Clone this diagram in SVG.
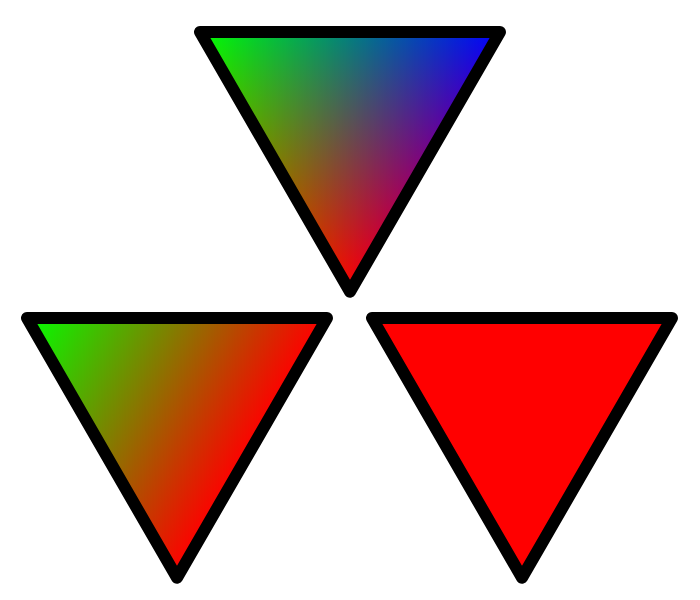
<svg xmlns="http://www.w3.org/2000/svg" width="700" height="600" viewBox="0 0 700 600">
  <style>
    .edge { fill: none; stroke: #000; stroke-width: 12; stroke-linejoin: round; }
    .screen { mix-blend-mode: screen; }
  </style>
  <defs>
    <linearGradient id="gTop" gradientUnits="userSpaceOnUse" x1="200" y1="32" x2="425" y2="162">
      <stop offset="0" stop-color="#00ff00"/>
      <stop offset="1" stop-color="#000000"/>
    </linearGradient>
    <linearGradient id="bTop" gradientUnits="userSpaceOnUse" x1="500" y1="32" x2="275" y2="162">
      <stop offset="0" stop-color="#0000ff"/>
      <stop offset="1" stop-color="#000000"/>
    </linearGradient>
    <linearGradient id="rTop" gradientUnits="userSpaceOnUse" x1="350" y1="291.8" x2="350" y2="32">
      <stop offset="0" stop-color="#ff0000"/>
      <stop offset="1" stop-color="#000000"/>
    </linearGradient>
    <linearGradient id="grLeft" gradientUnits="userSpaceOnUse" x1="27" y1="318" x2="252" y2="448">
      <stop offset="0" stop-color="#00ff00"/>
      <stop offset="1" stop-color="#ff0000"/>
    </linearGradient>
  </defs>

  <g id="triangle-top">
    <g style="isolation:isolate">
      <polygon points="200,32 500,32 350,291.8" fill="url(#gTop)"/>
      <polygon class="screen" points="200,32 500,32 350,291.8" fill="url(#bTop)"/>
      <polygon class="screen" points="200,32 500,32 350,291.8" fill="url(#rTop)"/>
    </g>
    <polygon class="edge" points="200,32 500,32 350,291.8"/>
  </g>

  <g id="triangle-left">
    <polygon points="27,318 327,318 177,577.8" fill="url(#grLeft)"/>
    <polygon class="edge" points="27,318 327,318 177,577.8"/>
  </g>

  <g id="triangle-right">
    <polygon points="372,318 672,318 522,577.8" fill="#ff0000"/>
    <polygon class="edge" points="372,318 672,318 522,577.8"/>
  </g>
</svg>
